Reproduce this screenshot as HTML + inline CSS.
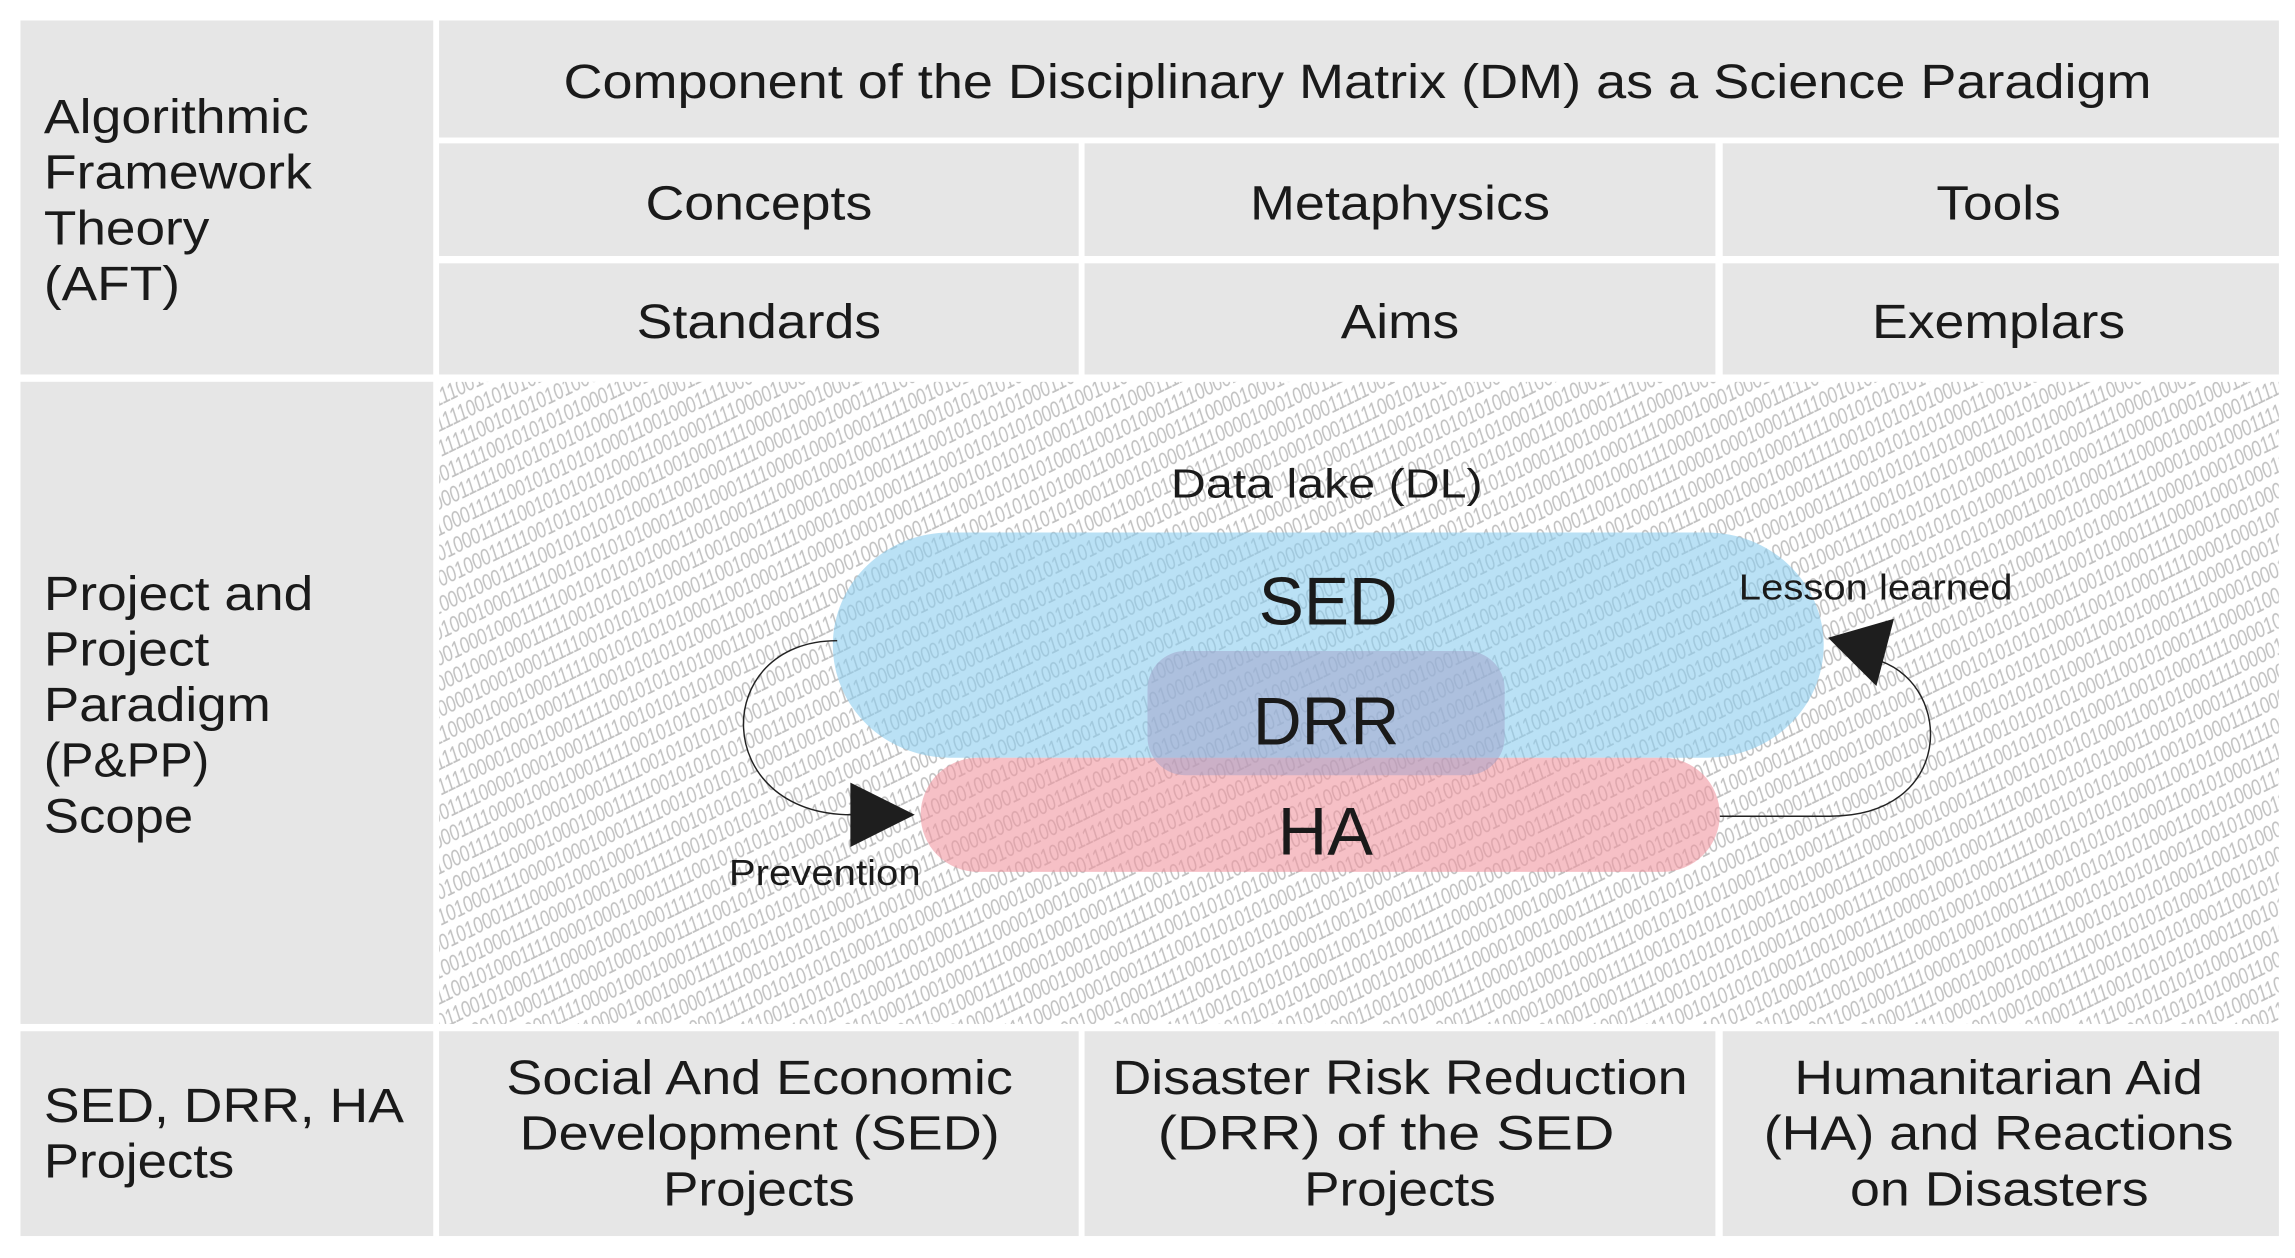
<!DOCTYPE html>
<html><head><meta charset="utf-8"><style>
html,body{margin:0;padding:0;background:#fff;width:2295px;height:1258px;overflow:hidden}
svg{display:block}
text{font-family:"Liberation Sans",Arial,sans-serif;fill:#1a1a1a}
</style></head><body>
<svg width="2295" height="1258" viewBox="0 0 1568 860" preserveAspectRatio="none" xmlns="http://www.w3.org/2000/svg">
<defs>
<pattern id="bin" width="560" height="16" patternUnits="userSpaceOnUse" patternTransform="rotate(-26)">
<text x="0" y="13" font-size="16" font-style="italic" style="fill:#c0c0c0" textLength="560" lengthAdjust="spacingAndGlyphs">0100011110000100010001111100101010101000110010001111000010001000111110010101010100011001</text>
</pattern>
<clipPath id="mid"><rect x="300" y="261" width="1257" height="439"/></clipPath>
</defs>
<rect width="1568" height="860" fill="#fff"/>
<g fill="#e6e6e6">
<rect x="14" y="14" width="282" height="242"/>
<rect x="300" y="14" width="1257" height="80"/>
<rect x="300" y="98" width="437" height="77"/>
<rect x="741" y="98" width="431" height="77"/>
<rect x="1177" y="98" width="380" height="77"/>
<rect x="300" y="180" width="437" height="76"/>
<rect x="741" y="180" width="431" height="76"/>
<rect x="1177" y="180" width="380" height="76"/>
<rect x="14" y="261" width="282" height="439"/>
<rect x="14" y="705" width="282" height="140"/>
<rect x="300" y="705" width="437" height="140"/>
<rect x="741" y="705" width="431" height="140"/>
<rect x="1177" y="705" width="380" height="140"/>
</g>
<g clip-path="url(#mid)">
<rect x="300" y="261" width="1257" height="439" fill="#fff"/>
<rect x="300" y="261" width="1257" height="439" fill="url(#bin)"/>
<rect x="569" y="364" width="677" height="154" rx="80" ry="77" fill="rgba(140,205,238,0.6)"/>
<rect x="629" y="518" width="546" height="78" rx="39" ry="39" fill="rgba(240,150,160,0.6)"/>
<rect x="784" y="445" width="244" height="85" rx="26" ry="26" fill="rgba(160,160,200,0.5)"/>
</g>
<g font-size="33">
<text x="385" y="67" textLength="1085" lengthAdjust="spacingAndGlyphs">Component of the Disciplinary Matrix (DM) as a Science Paradigm</text>
<text x="441" y="150" textLength="155" lengthAdjust="spacingAndGlyphs">Concepts</text>
<text x="854" y="150" textLength="205" lengthAdjust="spacingAndGlyphs">Metaphysics</text>
<text x="1323" y="150" textLength="85" lengthAdjust="spacingAndGlyphs">Tools</text>
<text x="435" y="231" textLength="167" lengthAdjust="spacingAndGlyphs">Standards</text>
<text x="916" y="231" textLength="81" lengthAdjust="spacingAndGlyphs">Aims</text>
<text x="1279" y="231" textLength="173" lengthAdjust="spacingAndGlyphs">Exemplars</text>
<text x="346" y="748" textLength="346" lengthAdjust="spacingAndGlyphs">Social And Economic</text>
<text x="355" y="786" textLength="328" lengthAdjust="spacingAndGlyphs">Development (SED)</text>
<text x="453" y="824" textLength="131" lengthAdjust="spacingAndGlyphs">Projects</text>
<text x="760" y="748" textLength="393" lengthAdjust="spacingAndGlyphs">Disaster Risk Reduction</text>
<text x="791" y="786" textLength="312" lengthAdjust="spacingAndGlyphs">(DRR) of the SED</text>
<text x="891" y="824" textLength="131" lengthAdjust="spacingAndGlyphs">Projects</text>
<text x="1226" y="748" textLength="279" lengthAdjust="spacingAndGlyphs">Humanitarian Aid</text>
<text x="1205" y="786" textLength="321" lengthAdjust="spacingAndGlyphs">(HA) and Reactions</text>
<text x="1264" y="824" textLength="204" lengthAdjust="spacingAndGlyphs">on Disasters</text>
<text x="30" y="91" textLength="181" lengthAdjust="spacingAndGlyphs">Algorithmic</text>
<text x="30" y="129" textLength="183" lengthAdjust="spacingAndGlyphs">Framework</text>
<text x="30" y="167" textLength="113" lengthAdjust="spacingAndGlyphs">Theory</text>
<text x="30" y="205" textLength="93" lengthAdjust="spacingAndGlyphs">(AFT)</text>
<text x="30" y="417" textLength="184" lengthAdjust="spacingAndGlyphs">Project and</text>
<text x="30" y="455" textLength="113" lengthAdjust="spacingAndGlyphs">Project</text>
<text x="30" y="493" textLength="155" lengthAdjust="spacingAndGlyphs">Paradigm</text>
<text x="30" y="531" textLength="113" lengthAdjust="spacingAndGlyphs">(P&amp;PP)</text>
<text x="30" y="569" textLength="102" lengthAdjust="spacingAndGlyphs">Scope</text>
<text x="30" y="767" textLength="246" lengthAdjust="spacingAndGlyphs">SED, DRR, HA</text>
<text x="30" y="805" textLength="130" lengthAdjust="spacingAndGlyphs">Projects</text>
</g>
<g>
<text x="800" y="340" font-size="28" textLength="213" lengthAdjust="spacingAndGlyphs">Data lake (DL)</text>
<text x="860" y="427" font-size="46" textLength="95" lengthAdjust="spacingAndGlyphs">SED</text>
<text x="856" y="509" font-size="46" textLength="100" lengthAdjust="spacingAndGlyphs">DRR</text>
<text x="873" y="584" font-size="46" textLength="65" lengthAdjust="spacingAndGlyphs">HA</text>
<text x="1188" y="410" font-size="25" textLength="187" lengthAdjust="spacingAndGlyphs">Lesson learned</text>
<text x="498" y="605" font-size="25" textLength="131" lengthAdjust="spacingAndGlyphs">Prevention</text>
</g>
<g fill="none" stroke="#222" stroke-width="1">
<path d="M572,438 C485,438 485,557 582,557"/>
<path d="M1175,558 L1250,558 C1335,558 1335,470 1285,452"/>
</g>
<g fill="#1e1e1e">
<polygon points="581,535 625,557 581,579"/>
<polygon points="1294,423 1282,469 1249,436"/>
</g>
</svg>
</body></html>
